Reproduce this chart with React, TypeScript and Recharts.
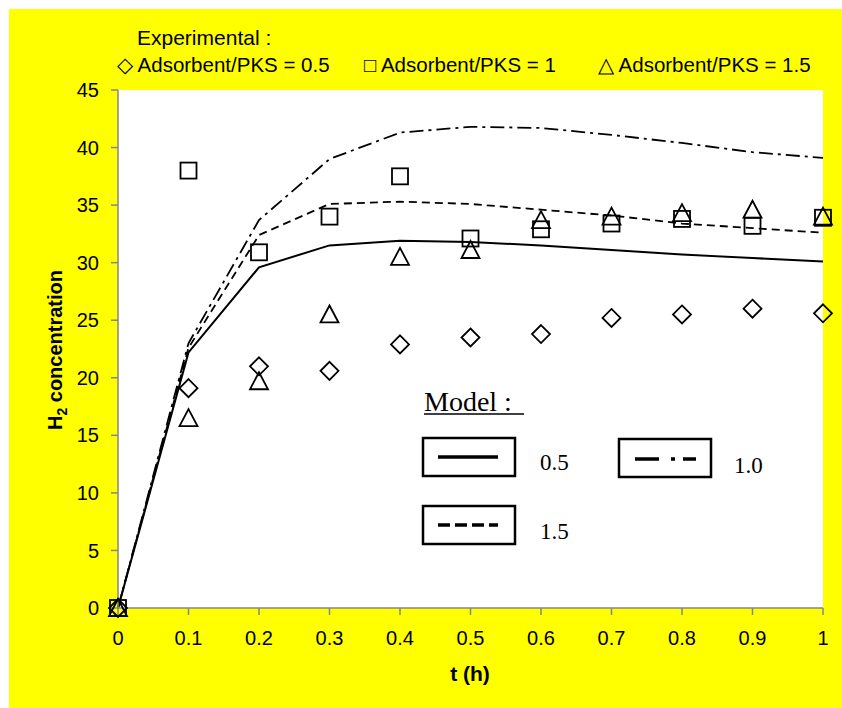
import React from "react";
import { ComposedChart, Line, XAxis, YAxis, CartesianGrid } from "recharts";

const times = [0, 0.1, 0.2, 0.3, 0.4, 0.5, 0.6, 0.7, 0.8, 0.9, 1.0];
const exp05 = [0, 19.1, 21.0, 20.6, 22.9, 23.5, 23.8, 25.2, 25.5, 26.0, 25.6];
const exp10 = [0, 38.0, 30.9, 34.0, 37.5, 32.1, 32.9, 33.4, 33.8, 33.2, 33.9];
const exp15 = [0, 16.5, 19.7, 25.5, 30.5, 31.1, 33.7, 34.0, 34.3, 34.6, 34.0];
const model05 = [0, 22.2, 29.6, 31.5, 31.9, 31.8, 31.5, 31.1, 30.7, 30.4, 30.1];
const model10 = [0, 23.0, 33.7, 39.0, 41.3, 41.8, 41.7, 41.1, 40.4, 39.6, 39.1];
const model15 = [0, 22.6, 32.4, 35.1, 35.3, 35.1, 34.6, 34.1, 33.4, 33.0, 32.6];
const xTicks = [0, 0.1, 0.2, 0.3, 0.4, 0.5, 0.6, 0.7, 0.8, 0.9, 1];
const yTicks = [0, 5, 10, 15, 20, 25, 30, 35, 40, 45];

const data = times.map((t, i) => ({
  t,
  e05: exp05[i],
  e10: exp10[i],
  e15: exp15[i],
  m05: model05[i],
  m10: model10[i],
  m15: model15[i],
}));

const FONT = "'Liberation Sans', Arial, sans-serif";
const SERIF = "'Liberation Serif', 'Times New Roman', serif";

const Diamond = (p: any) => {
  const { cx, cy, index } = p;
  if (cx == null || cy == null) return <g key={"d" + index} />;
  const r = 9;
  return (
    <path
      key={"d" + index}
      d={`M${cx},${cy - r}L${cx + r},${cy}L${cx},${cy + r}L${cx - r},${cy}Z`}
      fill="none"
      stroke="#000"
      strokeWidth={1.8}
    />
  );
};
const Square = (p: any) => {
  const { cx, cy, index } = p;
  if (cx == null || cy == null) return <g key={"s" + index} />;
  const r = 8;
  return (
    <rect key={"s" + index} x={cx - r} y={cy - r} width={2 * r} height={2 * r} fill="none" stroke="#000" strokeWidth={1.8} />
  );
};
const Triangle = (p: any) => {
  const { cx, cy, index } = p;
  if (cx == null || cy == null) return <g key={"t" + index} />;
  const r = 9;
  return (
    <path
      key={"t" + index}
      d={`M${cx},${cy - r}L${cx + r},${cy + 8}L${cx - r},${cy + 8}Z`}
      fill="none"
      stroke="#000"
      strokeWidth={1.8}
    />
  );
};

const tickStyle = { fill: "#000", fontSize: 20, fontFamily: FONT };

export default function App() {
  const O = 9; // page offset of container
  return (
    <div style={{ position: "absolute", left: 9, top: 9, width: 833, height: 699, background: "#FFFF00" }}>
      <ComposedChart width={833} height={699} data={data} margin={{ top: 81, right: 19, bottom: 30, left: 29 }}>
        <CartesianGrid fill="#fff" stroke="none" horizontal={false} vertical={false} />
        <XAxis
          dataKey="t"
          type="number"
          domain={[0, 1]}
          ticks={xTicks}
          height={70}
          tick={tickStyle}
          tickSize={7}
          tickMargin={16}
          axisLine={{ stroke: "#868686", strokeWidth: 1.5 }}
          tickLine={{ stroke: "#868686", strokeWidth: 1.5 }}
          interval={0}
        />
        <YAxis
          type="number"
          domain={[0, 45]}
          ticks={yTicks}
          width={80}
          tick={tickStyle}
          tickSize={7}
          tickMargin={12}
          axisLine={{ stroke: "#868686", strokeWidth: 1.5 }}
          tickLine={{ stroke: "#868686", strokeWidth: 1.5 }}
          interval={0}
        />
        <Line dataKey="m05" type="linear" stroke="#000" strokeWidth={2} dot={false} isAnimationActive={false} />
        <Line dataKey="m10" type="linear" stroke="#000" strokeWidth={1.8} strokeDasharray="14 5 3 5" dot={false} isAnimationActive={false} />
        <Line dataKey="m15" type="linear" stroke="#000" strokeWidth={1.8} strokeDasharray="8 5" dot={false} isAnimationActive={false} />
        <Line dataKey="e05" stroke="none" dot={Diamond} activeDot={false} isAnimationActive={false} />
        <Line dataKey="e10" stroke="none" dot={Square} activeDot={false} isAnimationActive={false} />
        <Line dataKey="e15" stroke="none" dot={Triangle} activeDot={false} isAnimationActive={false} />
      </ComposedChart>
      <svg
        width={833}
        height={699}
        style={{ position: "absolute", left: 0, top: 0, pointerEvents: "none" }}
      >
        <g transform={`translate(${-O},${-O})`}>
          <text x={137} y={45} fontFamily={FONT} fontSize={21} fill="#000">Experimental :</text>
          <text x={117} y={72} fontFamily={FONT} fontSize={20.5} fill="#000">◇ Adsorbent/PKS = 0.5</text>
          <text x={364} y={72} fontFamily={FONT} fontSize={20.5} fill="#000">□ Adsorbent/PKS = 1</text>
          <text x={598} y={72} fontFamily={FONT} fontSize={20.5} fill="#000">△ Adsorbent/PKS = 1.5</text>

          <text
            x={62}
            y={350}
            transform="rotate(-90 62 350)"
            textAnchor="middle"
            fontFamily={FONT}
            fontWeight="bold"
            fontSize={20}
            fill="#000"
          >
            H<tspan dy={5} fontSize={14}>2</tspan>
            <tspan dy={-5}> concentration</tspan>
          </text>
          <text x={470} y={681} textAnchor="middle" fontFamily={FONT} fontWeight="bold" fontSize={21} fill="#000">t (h)</text>

          <text x={424} y={411} fontFamily={SERIF} fontSize={28} fill="#000">Model :</text>
          <line x1={424} x2={524} y1={414} y2={414} stroke="#000" strokeWidth={1.5} />

          <rect x={423} y={438} width={92} height={38} fill="#fff" stroke="#000" strokeWidth={2.5} />
          <line x1={438} x2={498} y1={457} y2={457} stroke="#000" strokeWidth={3.5} />
          <text x={540} y={470} fontFamily={SERIF} fontSize={23} fill="#000">0.5</text>

          <rect x={619} y={439} width={92} height={38} fill="#fff" stroke="#000" strokeWidth={2.5} />
          <line x1={635} x2={696} y1={459} y2={459} stroke="#000" strokeWidth={3.5} strokeDasharray="24 12 4 8 24" />
          <text x={734} y={473} fontFamily={SERIF} fontSize={23} fill="#000">1.0</text>

          <rect x={423} y={506} width={92} height={38} fill="#fff" stroke="#000" strokeWidth={2.5} />
          <line x1={438} x2={498} y1={525} y2={525} stroke="#000" strokeWidth={3.5} strokeDasharray="12 5" />
          <text x={540} y={539} fontFamily={SERIF} fontSize={23} fill="#000">1.5</text>
        </g>
      </svg>
    </div>
  );
}
